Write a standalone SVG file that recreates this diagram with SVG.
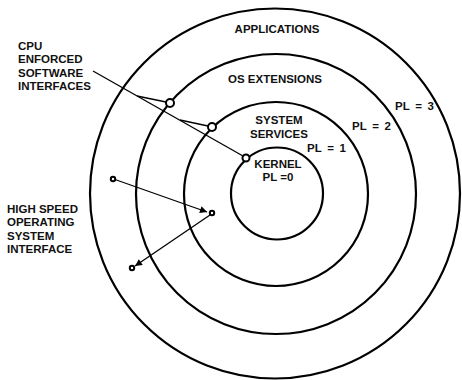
<svg xmlns="http://www.w3.org/2000/svg" width="462" height="380" viewBox="0 0 462 380">
<defs>
<style>
.ring{fill:none;stroke:#000;stroke-width:2.2}
.t{font-family:"Liberation Sans",Arial,sans-serif;font-weight:bold;font-size:11.5px;fill:#111}
.c{text-anchor:middle}
.pl{word-spacing:2.5px}
.ln{fill:none;stroke:#000;stroke-width:1.3}
.mk{fill:#fff;stroke:#000;stroke-width:2}
.dot{fill:#fff;stroke:#000;stroke-width:2}
</style>
<marker id="ah" viewBox="0 0 10 10" refX="10" refY="5" markerWidth="9" markerHeight="7" markerUnits="userSpaceOnUse" orient="auto">
<path d="M0,0 L10,5 L0,10 z" fill="#000"/>
</marker>
</defs>
<rect width="462" height="380" fill="#fff"/>
<g id="ring-applications">
<circle class="ring" cx="275" cy="193.5" r="185"/>
<text class="t c" x="277" y="33">APPLICATIONS</text>
<text class="t pl" x="395" y="110">PL = 3</text>
</g>
<g id="ring-os-extensions">
<circle class="ring" cx="276" cy="194" r="140"/>
<text class="t c" x="275" y="83">OS EXTENSIONS</text>
<text class="t pl" x="352" y="130">PL = 2</text>
</g>
<g id="ring-system-services">
<circle class="ring" cx="276" cy="194" r="92"/>
<text class="t c" x="279" y="124">SYSTEM</text>
<text class="t c" x="279" y="138">SERVICES</text>
<text class="t pl" x="307" y="152">PL = 1</text>
</g>
<g id="ring-kernel">
<circle class="ring" cx="277" cy="193.5" r="46"/>
<text class="t c" x="278" y="168">KERNEL</text>
<text class="t c" x="278" y="181">PL =0</text>
</g>
<g id="label-cpu">
<text class="t" x="18" y="50">CPU</text>
<text class="t" x="18" y="63">ENFORCED</text>
<text class="t" x="18" y="77">SOFTWARE</text>
<text class="t" x="18" y="90">INTERFACES</text>
</g>
<g id="label-high-speed">
<text class="t" x="7" y="213">HIGH SPEED</text>
<text class="t" x="7" y="226">OPERATING</text>
<text class="t" x="7" y="240">SYSTEM</text>
<text class="t" x="7" y="253">INTERFACE</text>
</g>
<g id="connectors">
<line class="ln" x1="93" y1="71" x2="243" y2="156"/>
<line class="ln" x1="137" y1="96" x2="166" y2="102"/>
<line class="ln" x1="180" y1="120" x2="208" y2="126"/>
<line class="ln" x1="115" y1="179.5" x2="207" y2="212" marker-end="url(#ah)"/>
<line class="ln" x1="210" y1="215" x2="135" y2="266" marker-end="url(#ah)"/>
<circle class="mk" cx="170" cy="103" r="4"/>
<circle class="mk" cx="212" cy="127" r="4"/>
<circle class="mk" cx="246" cy="158" r="3.5"/>
<circle class="dot" cx="113" cy="179" r="2.2"/>
<circle class="dot" cx="212" cy="213" r="2.2"/>
<circle class="dot" cx="132" cy="268" r="2.2"/>
</g>
</svg>
